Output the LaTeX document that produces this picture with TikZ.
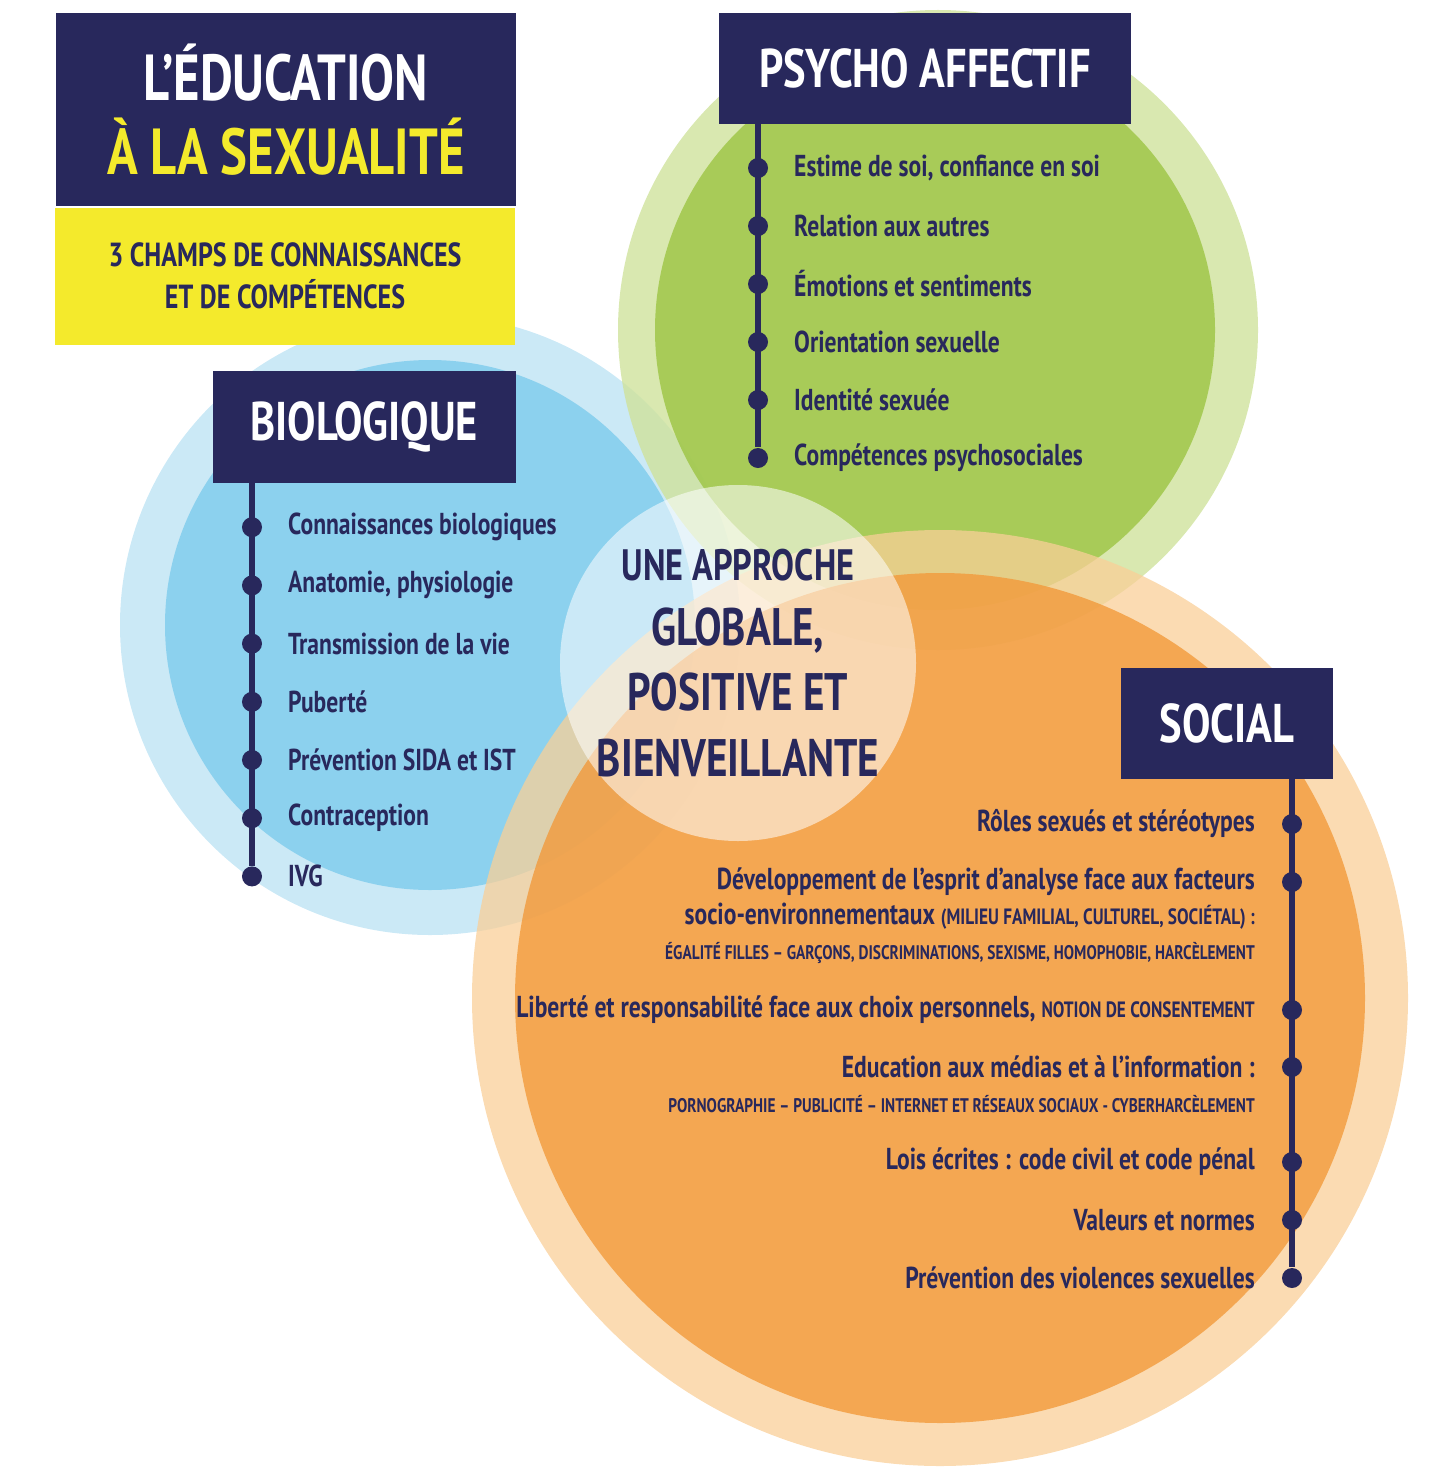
\documentclass[tikz,border=0pt]{standalone}
\usepackage{fontspec}
\setmainfont{PT Sans}[FakeStretch=0.78]
\usetikzlibrary{positioning}
\definecolor{navy}{HTML}{28285C}
\definecolor{jaune}{HTML}{F4EA2C}
\definecolor{vertc}{HTML}{CFE29C}
\definecolor{vertf}{HTML}{9CC543}
\definecolor{bleuc}{HTML}{BEE3F4}
\definecolor{bleuf}{HTML}{7DCBEC}
\definecolor{orc}{HTML}{F9CF98}
\definecolor{orf}{HTML}{F29A3B}
\tikzset{
  titre/.style={fill=navy, text=white, font=\bfseries\fontsize{15.5}{17}\selectfont, inner sep=0pt},
  puce/.style={circle, fill=navy, inner sep=0pt, minimum size=0.2cm},
  item/.style={text=navy, inner sep=1pt, font=\bfseries\fontsize{8.6}{10}\selectfont},
  petit/.style={text=navy, inner sep=1pt, font=\bfseries\fontsize{5.6}{7}\selectfont},
}
\begin{document}
\begin{tikzpicture}[x=0.01cm,y=-0.01cm]
\useasboundingbox (0,0) rectangle (1434,1482);
% Cercles
\fill[bleuc, opacity=0.8] (430,625) circle[radius=310];
\fill[bleuf, opacity=0.8] (430,625) circle[radius=265];
\fill[vertc, opacity=0.8] (938,330) circle[radius=320];
\fill[vertf, opacity=0.8] (935,330) circle[radius=280];
\fill[orc, opacity=0.75] (940,998) circle[radius=468];
\fill[orf, opacity=0.8] (940,998) circle[radius=425];
\fill[white, opacity=0.55] (738,663) circle[radius=178];

% Titre
\fill[jaune] (55,208) rectangle (515,345);
\node[titre, minimum width=4.6cm, minimum height=1.93cm, anchor=north west, align=center,
  font=\bfseries\fontsize{18.5}{21}\selectfont] (titre) at (55,12)
  {L’ÉDUCATION\\\textcolor{jaune}{À LA SEXUALITÉ}};
\node[text=navy, font=\bfseries\fontsize{9.5}{12}\selectfont, align=center] (champs) at (285,276)
  {3 CHAMPS DE CONNAISSANCES\\ET DE COMPÉTENCES};

% Psycho affectif
\node[titre, minimum width=4.12cm, minimum height=1.11cm, anchor=north west] (psy) at (718,12) {PSYCHO AFFECTIF};
\foreach \t [count=\i] in {{Estime de soi, confiance en soi}, Relation aux autres, Émotions et sentiments,
    Orientation sexuelle, Identité sexuée, Compétences psychosociales} {
  \node[puce] (p\i) at (758,110+58*\i) {};
  \node[item, anchor=west] (pt\i) at (790,110+58*\i) {\t};
}
\draw[navy, line width=1.5pt] (psy.south -| p1) -- (p6);

% Biologique
\node[titre, minimum width=3.03cm, minimum height=1.12cm, anchor=north west] (bio) at (212,370) {BIOLOGIQUE};
\foreach \t [count=\i] in {Connaissances biologiques, {Anatomie, physiologie}, Transmission de la vie,
    Puberté, Prévention SIDA et IST, Contraception, IVG} {
  \node[puce] (b\i) at (252,469+58.2*\i) {};
  \node[item, anchor=west] (bt\i) at (284,469+58.2*\i) {\t};
}
\draw[navy, line width=1.5pt] (bio.south -| b1) -- (b7);

% Centre
\node[text=navy, align=center, font=\bfseries\fontsize{15}{18.5}\selectfont] (centre) at (738,663)
  {{\fontsize{12.5}{15}\selectfont UNE APPROCHE}\\GLOBALE,\\POSITIVE ET\\BIENVEILLANTE};

% Social
\node[titre, minimum width=2.12cm, minimum height=1.11cm, anchor=north west] (soc) at (1120,667) {SOCIAL};
\foreach \y [count=\i] in {824,882,1010,1067,1162,1220,1278}
  \node[puce] (s\i) at (1292,\y) {};
\draw[navy, line width=1.5pt] (soc.south -| s1) -- (s7);
\node[item, anchor=east] (st1) at (1259,824) {Rôles sexués et stéréotypes};
\node[item, anchor=east] (st2) at (1259,882) {Développement de l’esprit d’analyse face aux facteurs};
\node[item, anchor=east] (st2b) at (1259,916) {socio-environnementaux {\fontsize{6.3}{7}\selectfont (MILIEU FAMILIAL, CULTUREL, SOCIÉTAL) :}};
\node[petit, anchor=east] (st2c) at (1259,953) {ÉGALITÉ FILLES – GARÇONS, DISCRIMINATIONS, SEXISME, HOMOPHOBIE, HARCÈLEMENT};
\node[item, anchor=east] (st3) at (1259,1010) {Liberté et responsabilité face aux choix personnels, {\fontsize{6.3}{7}\selectfont NOTION DE CONSENTEMENT}};
\node[item, anchor=east] (st4) at (1259,1067) {Education aux médias et à l’information :};
\node[petit, anchor=east] (st4b) at (1259,1104) {PORNOGRAPHIE – PUBLICITÉ – INTERNET ET RÉSEAUX SOCIAUX - CYBERHARCÈLEMENT};
\node[item, anchor=east] (st5) at (1259,1162) {Lois écrites : code civil et code pénal};
\node[item, anchor=east] (st6) at (1259,1220) {Valeurs et normes};
\node[item, anchor=east] (st7) at (1259,1278) {Prévention des violences sexuelles};
\end{tikzpicture}
\end{document}
